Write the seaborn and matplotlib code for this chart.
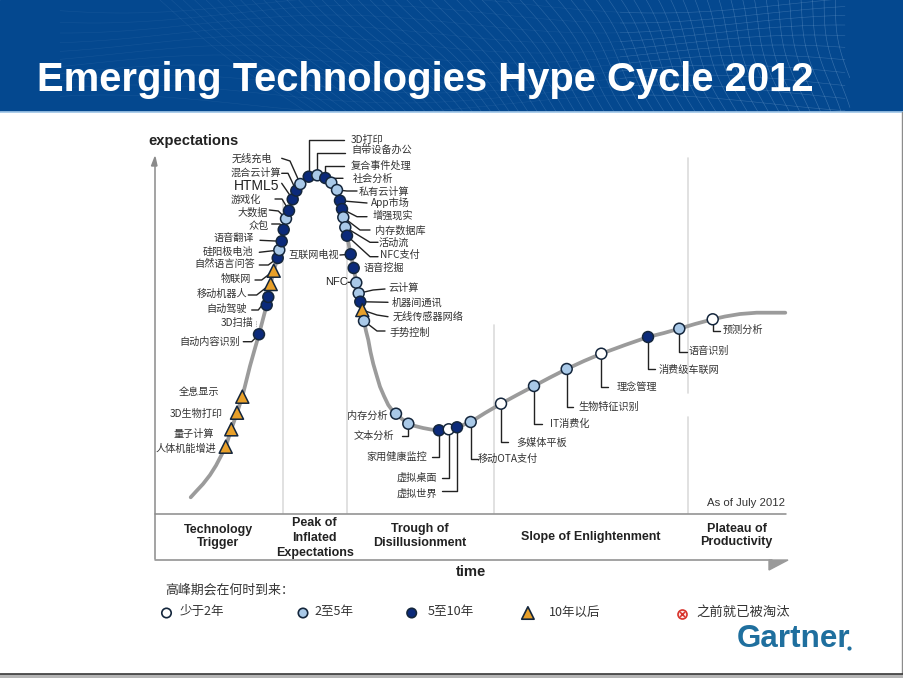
import numpy as np
import pandas as pd

import matplotlib
matplotlib.use("Agg")
import matplotlib.pyplot as plt
from matplotlib.patches import Rectangle, Polygon
import seaborn as sns

# technologies on the curve (pixel scale of the slide, y grows downward)
tech_names = ['人体机能增进', '量子计算', '3D生物打印', '全息显示', '自动内容识别', '3D扫描', '自动驾驶',
              '移动机器人', '物联网', '自然语言问答', '硅阳极电池', '语音翻译', '众包', '大数据', '游戏化',
              'HTML5', '混合云计算', '无线充电', '3D打印', '自带设备办公', '复合事件处理', '社会分析',
              '私有云计算', 'App市场', '增强现实', '内存数据库', '活动流', 'NFC支付', '互联网电视', '语音挖掘',
              'NFC', '云计算', '机器间通讯', '无线传感器网络', '手势控制', '内存分析', '文本分析', '家用健康监控',
              '虚拟桌面', '虚拟世界', '移动OTA支付', '多媒体平板', 'IT消费化', '生物特征识别', '理念管理',
              '消费级车联网', '语音识别', '预测分析']
tech_x = [225.7, 231.3, 237, 242.3, 259, 266.7, 268.3, 270.7, 273.7, 277.7, 279.3, 281.7, 283.7, 286, 289,
          292.7, 296.3, 300.3, 308.7, 317.3, 325.3, 331.3, 337, 340, 342, 343.3, 345.3, 347, 350.7, 353.7,
          356.3, 358.7, 360.3, 362.3, 364, 396, 408.3, 439, 448.7, 457, 470.7, 501, 534, 566.7, 601.3,
          648, 679.3, 712.7]
tech_y = [446.7, 429.3, 412.7, 396.7, 334.3, 305, 297, 284, 270.7, 258, 250, 241.3, 229.7, 218.7, 210.7,
          199.3, 190.7, 184, 176.7, 175.3, 178, 182.7, 190, 200.7, 209, 217.3, 227.3, 235.7, 254.3, 268,
          282.7, 293.3, 301.7, 310, 321, 413.7, 423.7, 430.3, 429.3, 427.3, 422, 403.7, 386, 369, 353.7,
          337, 328.7, 319.3]
tech_horizon = ['10+', '10+', '10+', '10+', '5-10', '5-10', '5-10', '10+', '10+', '5-10', '2-5', '5-10', '5-10',
                '2-5', '5-10', '5-10', '5-10', '2-5', '5-10', '2-5', '5-10', '2-5', '2-5', '5-10', '5-10', '2-5',
                '2-5', '5-10', '5-10', '5-10', '2-5', '2-5', '5-10', '10+', '2-5', '2-5', '2-5', '5-10', '<2',
                '5-10', '2-5', '<2', '2-5', '2-5', '<2', '5-10', '2-5', '<2']

# the hype curve itself
curve_x = [190.7, 196, 203, 210, 216, 222, 225.7, 231.3, 237, 242.3, 246, 250, 254.5, 259, 263, 266.7, 270.7,
           273.7, 277.7, 281.7, 286, 292.7, 296.3, 300.3, 304, 308.7, 313, 317.3, 321.5, 325.3, 331.3, 337,
           340, 342, 345.3, 347, 350.7, 353.7, 356.3, 360.3, 364, 366, 368.3, 370.5, 373.3, 376.5, 380, 384,
           388.3, 392, 396, 402, 408.3, 415, 423, 431, 439, 448.7, 457, 470.7, 485, 501, 517, 534, 550, 566.7,
           584, 601.3, 625, 648, 664, 679.3, 695, 712.7, 725, 740, 756.7, 785.3]
curve_y = [497.3, 491.5, 484, 475, 465.5, 454, 446.7, 429.3, 412.7, 396.7, 382, 366, 350, 334.3, 319, 305, 284,
           270.7, 258, 241.3, 218.7, 199.3, 190.7, 184, 180, 176.7, 175.5, 175.3, 176, 178, 182.7, 190,
           200.7, 209, 227.3, 235.7, 254.3, 268, 282.7, 301.7, 321, 331, 340, 352, 364, 375, 386.7, 396,
           405, 410, 413.7, 419, 423.7, 426, 428, 429.5, 430.3, 429.3, 427.3, 422, 413, 403.7, 395, 386, 377.5, 369,
           361, 353.7, 345, 337, 333, 328.7, 324, 319.3, 316.5, 314, 312.7, 312.7]

# label centres, same order as tech_names
label_x = [186, 193.3, 196, 199, 209.3, 236.7, 226.7, 222, 235.7, 225, 228, 233.3, 258.3, 252.7, 246,
           256.5, 255.7, 251.7, 366.7, 381.7, 380.7, 373.3, 384.3, 390.7, 393.3, 400.7, 393.3, 400, 314, 383.3,
           336.7, 403.3, 417.3, 428, 410, 367.3, 374, 396.7, 416.7, 417.3, 507.7, 541.7, 570, 609, 636.7,
           689.3, 708.7, 742.7]
label_y = [449, 434.3, 413.7, 392.3, 342.3, 322.7, 309, 294, 279.3, 264.3, 252.3, 238.3, 225.7, 212.3, 199.7,
           185.7, 173.3, 158.3, 140, 150, 165.7, 179, 191.7, 203, 215.7, 230.3, 242.3, 255, 255, 268.3,
           282.3, 288.3, 302.3, 316.7, 332.3, 416, 436, 456.7, 477.7, 493.3, 459.3, 442.7, 424.3, 406.7, 386.7,
           370, 351.3, 329.7]

# leader bends, from the label end toward the mark
leaders = {
    '无线充电': [(281.7, 158.3), (290, 161)], '混合云计算': [(281.7, 173.3), (288, 173.3)],
    'HTML5': [(281.7, 183.3)], '游戏化': [(275, 199), (282, 199)], '大数据': [(269.3, 210), (278.3, 211)],
    '众包': [(271.7, 224), (280, 224)], '语音翻译': [(260, 240.3)], '硅阳极电池': [(259.3, 252.3)],
    '自然语言问答': [(259.3, 265), (268.3, 265)], '物联网': [(255, 280), (261.7, 280)],
    '移动机器人': [(248.3, 295), (256.7, 295)], '自动驾驶': [(251.7, 310), (258.3, 310)],
    '自动内容识别': [(243.3, 341.7), (251.7, 341.7)],
    '3D打印': [(344, 140), (308.7, 140)], '自带设备办公': [(345, 152.7), (317.3, 152.7)],
    '复合事件处理': [(344, 165.7), (325.3, 165.7)], '社会分析': [(343, 178.3), (335, 178.3)],
    '私有云计算': [(357, 191), (347, 191)], 'App市场': [(367, 203)], '增强现实': [(367, 216.7), (357, 216.7)],
    '内存数据库': [(370, 230), (360, 230)], '活动流': [(378, 242.3), (370, 242.3)],
    'NFC支付': [(378, 256.7), (370, 256.7)], '互联网电视': [(340, 255)], 'NFC': [(348, 282.3)],
    '云计算': [(385, 289), (373, 290)], '机器间通讯': [(388, 302.3)], '无线传感器网络': [(388, 316.7), (377, 315)],
    '手势控制': [(385, 331), (377, 331)], '文本分析': [(401.7, 436), (408.3, 436)],
    '家用健康监控': [(431.7, 456.7), (439, 456.7)], '虚拟桌面': [(441.7, 477.7), (448.7, 477.7)],
    '虚拟世界': [(441.7, 491), (457, 491)], '移动OTA支付': [(478, 459.3), (470.7, 459.3)],
    '多媒体平板': [(508.3, 441.7), (501, 441.7)], 'IT消费化': [(541.7, 424), (534, 424)],
    '生物特征识别': [(573.3, 406.7), (566.7, 406.7)], '理念管理': [(608.3, 387.3), (601.3, 387.3)],
    '消费级车联网': [(655, 369), (648, 369)], '语音识别': [(686.7, 351.7), (679.3, 351.7)],
    '预测分析': [(720, 330.7), (712.7, 330.7)],
}

# legend
legend_keys = ['<2', '2-5', '5-10', '10+']
legend_labels = ['少于2年', '2至5年', '5至10年', '10年以后', '之前就已被淘汰']
legend_mark_x = [166.5, 303, 411.7, 527.9]
legend_text_x = [179.8, 314.4, 427.8, 548.5, 696.4]
legend_text_size = [9, 9, 9.1, 9, 9.6]

palette = {'<2': '#ffffff', '2-5': '#a9c9e8', '5-10': '#0b2a7a', '10+': '#e8a02a'}
markers = {'<2': 'o', '2-5': 'o', '5-10': 'o', '10+': '^'}
sizes = {'<2': 62, '2-5': 62, '5-10': 62, '10+': 88}

sns.set_theme(style='white')
plt.rcParams['font.family'] = ['Noto Sans CJK SC', 'DejaVu Sans']
latin = ['Liberation Sans', 'DejaVu Sans']

fig = plt.figure(figsize=(9.04, 6.78), dpi=100)
ax = fig.add_axes([0, 0, 1, 1])
ax.set_xlim(0, 904)
ax.set_ylim(678, 0)
ax.axis('off')

# banner with the faint wire mesh
ax.add_patch(Rectangle((0, 0), 904, 112, color='#04488f', zorder=1))
v = np.linspace(0, 112, 50)
for u in np.arange(230, 850, 11):
    slant = np.interp(u, [230, 850], [1.3, 0.18])
    xs = u + slant * (v - 56) + 5 * np.sin(v / 25 + u / 90)
    keep = xs < 850
    ax.plot(xs[keep], v[keep], color='#86afd9', lw=0.45, alpha=np.interp(u, [230, 850], [0.12, 0.4]), zorder=1.1)
for row_y in np.arange(4, 112, 10):
    xs = np.linspace(60, 845, 200)
    wave = row_y + 9 * np.sin(xs / 85 + row_y / 30)
    ax.plot(xs, wave, color='#86afd9', lw=0.4, alpha=0.12, zorder=1.1)
    ax.plot(xs[xs > 620], wave[xs > 620], color='#86afd9', lw=0.45, alpha=0.22, zorder=1.1)
ax.add_patch(Rectangle((0, 112), 904, 566, color='white', zorder=1.2))
ax.plot([0, 904], [111.5, 111.5], color='#9cc3e6', lw=1.2, zorder=1.3)
ax.text(37, 80, 'Emerging Technologies Hype Cycle 2012', color='white', fontsize=28.85, fontweight='bold',
        family=latin, ha='left', va='center', zorder=3)

# slide edge
ax.plot([902.5, 902.5], [112, 674], color='#8c8c8c', lw=1, zorder=1.3)
ax.add_patch(Rectangle((0, 674), 904, 4, color='#b5b5b5', zorder=1.3))
ax.plot([0, 904], [674, 674], color='#3a3a3a', lw=1.2, zorder=1.4)

# phase dividers
for x0, y0, y1 in [(282.7, 200, 513), (347.3, 210, 513), (494, 325, 513), (688.5, 158, 393), (688.5, 417, 513)]:
    ax.plot([x0, x0], [y0, y1], color='#dcdcdc', lw=1.2, zorder=1.5)

# frame and axis arrows
ax.plot([155.5, 155.5], [165, 559], color='#8a8a8a', lw=1.1, zorder=1.6)
ax.plot([155.5, 786], [513.5, 513.5], color='#8a8a8a', lw=1.1, zorder=1.6)
ax.plot([155.5, 772], [559.5, 559.5], color='#8a8a8a', lw=1.1, zorder=1.6)
ax.add_patch(Polygon([(155, 157), (151.5, 166), (157, 166)], color='#8a8a8a', zorder=1.6))
ax.add_patch(Polygon([(769, 560), (788, 560), (769, 570)], color='#9a9a9a', zorder=1.6))

sns.lineplot(x=curve_x, y=curve_y, sort=False, estimator=None, color='#9b9b9b', linewidth=2.7, ax=ax,
             legend=False, zorder=2, solid_capstyle='round', solid_joinstyle='round')

tech = pd.DataFrame({'name': tech_names, 'x': tech_x, 'y': tech_y, 'horizon': tech_horizon,
                     'lx': label_x, 'ly': label_y})

# leaders go under the marks
for row in tech.itertuples():
    if row.name in leaders:
        pts = leaders[row.name] + [(row.x, row.y)]
        ax.plot([p[0] for p in pts], [p[1] for p in pts], color='#222222', lw=1.0, zorder=2.2)
ax.plot([256.5, 256.5], [321, 326], color='#777777', lw=0.6, ls=':', zorder=2.2)

sns.scatterplot(data=tech, x='x', y='y', hue='horizon', style='horizon', size='horizon',
                palette=palette, markers=markers, sizes=sizes, edgecolor='#14263c', linewidth=1.1,
                legend=False, ax=ax, zorder=3)

for row in tech.itertuples():
    if row.name in ('HTML5', 'NFC'):
        ax.text(row.lx, row.ly, row.name, fontsize=10 if row.name == 'HTML5' else 8, family=latin,
                color='#222222', ha='center', va='center', zorder=3)
    else:
        ax.text(row.lx, row.ly, row.name, fontsize=7.3, color='#333333', ha='center', va='center', zorder=3)

# axis words and phase names
ax.text(148, 141, 'expectations', fontsize=10.6, fontweight='bold', family=latin, color='#222222',
        ha='left', va='center', zorder=3)
ax.text(470.7, 572, 'time', fontsize=10.6, fontweight='bold', family=latin, color='#222222',
        ha='center', va='center', zorder=3)
ax.text(785.5, 503, 'As of July 2012', fontsize=8.2, family=latin, color='#333333', ha='right',
        va='center', zorder=3)

phase_names = ['Technology\nTrigger', 'Peak of\nInflated\nExpectations', 'Trough of\nDisillusionment',
               'Slope of Enlightenment', 'Plateau of\nProductivity']
phase_x = [218.3, 314.7, 420, 590.7, 736.7]
phase_y = [536.5, 538, 536, 536.7, 535.7]
phase_spacing = [1.15, 1.3, 1.15, 1.15, 1.15]
for name, px, py, gap in zip(phase_names, phase_x, phase_y, phase_spacing):
    ax.text(px, py, name, fontsize=9, fontweight='bold', family=latin, color='#222222', ha='center',
            va='center', linespacing=gap, zorder=3)

# legend row
ax.text(165, 590, '高峰期会在何时到来：', fontsize=9.3, color='#333333', ha='left', va='center', zorder=3)
sns.scatterplot(x=legend_mark_x, y=[613] * 4, hue=legend_keys, style=legend_keys, size=legend_keys,
                hue_order=legend_keys, palette=palette, markers=markers,
                sizes={'<2': 46, '2-5': 46, '5-10': 46, '10+': 80}, edgecolor='#14263c', linewidth=1.2,
                legend=False, ax=ax, zorder=3)
ax.scatter([681.7], [613.5], s=42, facecolor='#fbe6e6', edgecolor='#d8342c', linewidth=1.2, zorder=3)
ax.scatter([681.7], [613.5], s=14, marker='x', color='#d8342c', linewidth=1.1, zorder=3.1)
for text, tx, fs in zip(legend_labels, legend_text_x, legend_text_size):
    ax.text(tx, 612, text, fontsize=fs, color='#333333', ha='left', va='center', zorder=3)

# logo
ax.text(737, 639, 'Gartner', fontsize=22.6, fontweight='bold', family=latin, color='#1f6f9e', ha='left',
        va='center', zorder=3)
ax.scatter([849], [648], s=4, color='#1f6f9e', zorder=3)

plt.savefig('out.png', dpi=100)
